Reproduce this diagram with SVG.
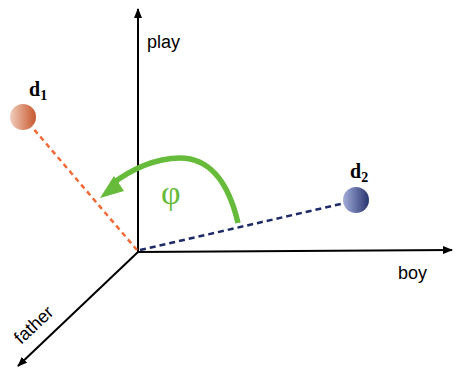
<svg xmlns="http://www.w3.org/2000/svg" width="455" height="370" viewBox="0 0 455 370">
<style>
.axis{stroke:#000;stroke-width:2;fill:none}
.lbl{font-family:"Liberation Sans",Arial,sans-serif;font-size:18px;fill:#000}
.dl{font-family:"Liberation Serif","Times New Roman",serif;font-weight:bold;fill:#000}
</style>
<defs>
<marker id="ah" markerWidth="10" markerHeight="8" refX="9" refY="4" orient="auto" markerUnits="userSpaceOnUse" viewBox="0 0 10 8">
<path d="M0,0 L10,4 L0,8 Z" fill="#000"/>
</marker>
<linearGradient id="g1l" x1="0" y1="0" x2="1" y2="0">
<stop offset="0" stop-color="#f0cdbd"/>
<stop offset="1" stop-color="#c8572c"/>
</linearGradient>
<linearGradient id="g2l" x1="0" y1="0" x2="1" y2="0">
<stop offset="0" stop-color="#a3aedb"/>
<stop offset="1" stop-color="#27336e"/>
</linearGradient>
</defs>
<g id="connectors">
<line class="axis" x1="138" y1="252" x2="138" y2="9" marker-end="url(#ah)"/>
<line class="axis" x1="138" y1="252" x2="452" y2="250" marker-end="url(#ah)"/>
<line class="axis" x1="138" y1="252" x2="18" y2="366" marker-end="url(#ah)"/>
<line x1="137" y1="250" x2="32" y2="127" stroke="#f26a36" stroke-width="2.5" stroke-dasharray="5,4"/>
<line x1="140" y1="250" x2="345" y2="203" stroke="#1c2a66" stroke-width="2.5" stroke-dasharray="6,4"/>
<path d="M238,223 C228,180 208,158 180,158 C155,158 130,170 112,184" fill="none" stroke="#66bb3a" stroke-width="5.5"/>
<path d="M100,198 L114,176 L124,191 Z" fill="#66bb3a"/>
</g>
<g id="axis-labels">
<text class="lbl" x="147" y="48">play</text>
<text class="lbl" x="398" y="279">boy</text>
<text class="lbl" transform="translate(21,345) rotate(-43)">father</text>
</g>
<g id="d1">
<circle cx="23" cy="117" r="13" fill="url(#g1l)"/>
<text class="dl" x="29" y="96" font-size="20">d<tspan font-size="14" dy="4">1</tspan></text>
</g>
<g id="d2">
<circle cx="356" cy="200" r="13" fill="url(#g2l)"/>
<text class="dl" x="350" y="178" font-size="20">d<tspan font-size="14" dy="4">2</tspan></text>
</g>
<g id="angle">
<text x="161" y="204" font-family="'Liberation Serif','Times New Roman',serif" font-size="34" fill="#66bb3a">φ</text>
</g>
</svg>
